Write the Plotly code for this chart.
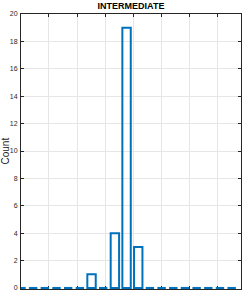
import plotly.graph_objects as go

# ---- data ----
bin_index = list(range(19))
counts = [0, 0, 0, 0, 0, 0, 1, 0, 4, 19, 3, 0, 0, 0, 0, 0, 0, 0, 0]
title_text = "INTERMEDIATE"
y_label = "Count"
y_ticks = [0, 2, 4, 6, 8, 10, 12, 14, 16, 18, 20]

BLUE = "#0072BD"
AX = "#262626"
BAR_W = 0.72

nz_x = [x for x, c in zip(bin_index, counts) if c > 0]
nz_y = [c for c in counts if c > 0]

# zero-count bins drawn as flat segments on the baseline
zx, zy = [], []
for x, c in zip(bin_index, counts):
    if c == 0:
        zx += [x - BAR_W / 2, x + BAR_W / 2, None]
        zy += [0, 0, None]

fig = go.Figure()
fig.add_trace(go.Bar(
    x=nz_x, y=nz_y, width=BAR_W,
    marker=dict(color="rgba(255,255,255,0)", line=dict(color=BLUE, width=2)),
    showlegend=False, hoverinfo="skip",
))
fig.add_trace(go.Scatter(
    x=zx, y=zy, mode="lines",
    line=dict(color=BLUE, width=2.2),
    showlegend=False, hoverinfo="skip",
))

fig.update_layout(
    width=246, height=294,
    margin=dict(l=21, r=5, t=14, b=5),
    plot_bgcolor="white", paper_bgcolor="white",
    font=dict(family="Liberation Sans Narrow, Liberation Sans, Arial", size=8, color=AX),
    title=dict(
        text="<b>" + title_text + "</b>",
        x=0.5, xref="paper", xanchor="center",
        y=1 - 5.5 / 294, yref="container", yanchor="middle",
        font=dict(size=9, color="#000000"),
    ),
    xaxis=dict(
        range=[-0.04, 18.8],
        showticklabels=False,
        tick0=2.35, dtick=2.41, tickmode="linear",
        ticks="inside", ticklen=3, tickcolor=AX,
        showgrid=True, gridcolor="#E6E6E6", gridwidth=1,
        showline=True, linecolor=AX, linewidth=1, mirror="ticks",
        zeroline=False, layer="below traces",
    ),
    yaxis=dict(
        range=[-0.07, 20],
        tickvals=y_ticks,
        ticks="inside", ticklen=3, tickcolor=AX,
        tickfont=dict(size=7, color=AX),
        ticklabelstandoff=1,
        showgrid=True, gridcolor="#E6E6E6", gridwidth=1,
        showline=True, linecolor=AX, linewidth=1, mirror="ticks",
        zeroline=False, layer="below traces",
        automargin=False,
    ),
    bargap=0,
    annotations=[dict(
        text=y_label, textangle=-90,
        x=0, xref="paper", xshift=-16, xanchor="center",
        y=0.5, yref="paper", yanchor="middle",
        showarrow=False, font=dict(size=10, color=AX),
    )],
)

fig.write_html(
    "out.html",
    config={"displayModeBar": False, "staticPlot": True},
    post_script="document.body.style.margin='0';document.body.style.overflow='hidden';",
)
